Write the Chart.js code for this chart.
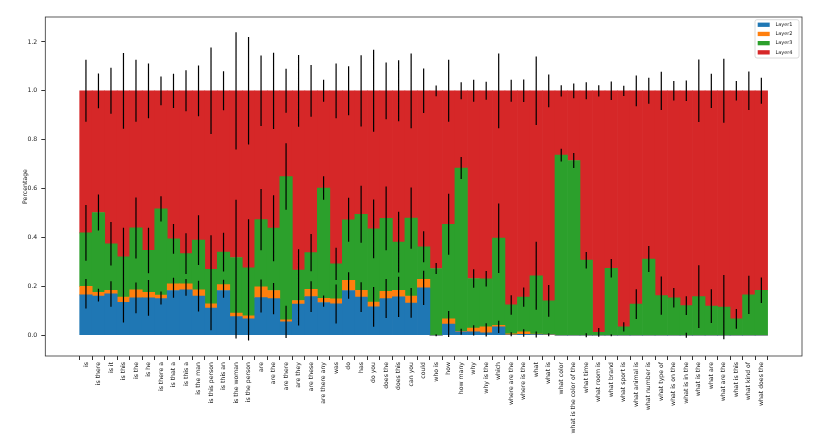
<!DOCTYPE html>
<html>
<head>
<meta charset="utf-8">
<script src="https://cdn.jsdelivr.net/npm/chart.js@4"></script>
<style>
  html, body { margin: 0; padding: 0; background: #fff; }
</style>
</head>
<body>
<canvas id="chart" width="830" height="441"></canvas>
<script>
const categories = ['is', 'is there', 'is it', 'is this', 'is the', 'is he', 'is there a', 'is that a', 'is this a',
  'is the man', 'is this person', 'is this an', 'is the woman', 'is the person', 'are', 'are the', 'are there',
  'are they', 'are these', 'are there any', 'was', 'do', 'has', 'do you', 'does the', 'does this', 'can you',
  'could', 'who is', 'how', 'how many', 'why', 'why is the', 'which', 'where are the', 'where is the', 'what',
  'what is', 'what color', 'what is the color of the', 'what time', 'what room is', 'what brand', 'what sport is',
  'what animal is', 'what number is', 'what type of', 'what is on the', 'what is in the', 'what is the',
  'what are', 'what are the', 'what is this', 'what kind of', 'what does the'];

const layerNames = ['Layer1', 'Layer2', 'Layer3', 'Layer4'];

const layer1 = [0.165, 0.160, 0.169, 0.135, 0.153, 0.153, 0.150, 0.183, 0.186, 0.160, 0.111, 0.183, 0.076, 0.067,
  0.154, 0.150, 0.055, 0.127, 0.158, 0.134, 0.128, 0.183, 0.156, 0.116, 0.150, 0.157, 0.132, 0.194, 0.000,
  0.046, 0.014, 0.014, 0.010, 0.034, 0.002, 0.004, 0.003, 0.002, 0, 0, 0, 0, 0, 0, 0, 0, 0, 0, 0, 0, 0, 0, 0, 0, 0];
const layer2 = [0.035, 0.015, 0.015, 0.021, 0.033, 0.022, 0.014, 0.027, 0.024, 0.026, 0.017, 0.024, 0.015, 0.012,
  0.044, 0.033, 0.008, 0.015, 0.030, 0.017, 0.021, 0.042, 0.028, 0.020, 0.030, 0.027, 0.028, 0.035, 0.000,
  0.021, 0.002, 0.015, 0.024, 0.006, 0.004, 0.010, 0.002, 0.001, 0, 0, 0, 0, 0, 0, 0, 0, 0, 0, 0, 0, 0, 0, 0, 0, 0];
const layer3 = [0.219, 0.327, 0.190, 0.165, 0.253, 0.172, 0.353, 0.184, 0.124, 0.203, 0.142, 0.133, 0.227, 0.197,
  0.275, 0.255, 0.586, 0.125, 0.150, 0.451, 0.143, 0.247, 0.311, 0.299, 0.298, 0.197, 0.319, 0.133, 0.273,
  0.387, 0.668, 0.203, 0.197, 0.357, 0.118, 0.142, 0.238, 0.138, 0.737, 0.715, 0.307, 0.012, 0.274, 0.034,
  0.127, 0.312, 0.162, 0.153, 0.121, 0.158, 0.119, 0.115, 0.067, 0.165, 0.184];
const layer4 = [0.581, 0.498, 0.626, 0.679, 0.561, 0.653, 0.483, 0.606, 0.666, 0.611, 0.730, 0.660, 0.682, 0.724,
  0.527, 0.562, 0.351, 0.733, 0.662, 0.398, 0.708, 0.528, 0.505, 0.565, 0.522, 0.619, 0.521, 0.638, 0.727,
  0.546, 0.316, 0.768, 0.769, 0.603, 0.876, 0.844, 0.757, 0.859, 0.263, 0.285, 0.693, 0.988, 0.726, 0.966,
  0.873, 0.688, 0.838, 0.847, 0.879, 0.842, 0.881, 0.885, 0.933, 0.835, 0.816];

// half-length of the error bar drawn at the top of each layer
const err1 = [0.056, 0.022, 0.052, 0.083, 0.063, 0.073, 0.024, 0.030, 0.025, 0.063, 0.091, 0.030, 0.089, 0.089,
  0.061, 0.064, 0.066, 0.087, 0.063, 0.017, 0.080, 0.034, 0.061, 0.081, 0.080, 0.082, 0.061, 0.070, 0.004,
  0.053, 0.012, 0.015, 0.015, 0.025, 0.006, 0.010, 0.012, 0.006, 0, 0, 0.008, 0, 0.004, 0, 0, 0, 0, 0, 0.010,
  0, 0, 0, 0, 0, 0];
const err2 = [0.030, 0.015, 0.020, 0.020, 0.030, 0.020, 0.015, 0.025, 0.020, 0.025, 0.020, 0.020, 0.015, 0.015,
  0.030, 0.025, 0.010, 0.015, 0.025, 0.012, 0.020, 0.033, 0.025, 0.020, 0.025, 0.025, 0.025, 0.033, 0.004,
  0.020, 0.005, 0.012, 0.015, 0.010, 0.006, 0.010, 0.005, 0.004, 0, 0, 0.004, 0, 0, 0, 0, 0, 0, 0, 0.006,
  0, 0, 0, 0, 0, 0];
const err3 = [0.114, 0.074, 0.089, 0.119, 0.125, 0.093, 0.052, 0.061, 0.083, 0.102, 0.139, 0.079, 0.236, 0.198,
  0.125, 0.135, 0.136, 0.085, 0.076, 0.048, 0.066, 0.090, 0.117, 0.120, 0.130, 0.124, 0.125, 0.063, 0.023,
  0.125, 0.045, 0.038, 0.032, 0.142, 0.040, 0.039, 0.139, 0.065, 0.026, 0.031, 0.034, 0.018, 0.038, 0.019,
  0.061, 0.053, 0.078, 0.040, 0.038, 0.128, 0.069, 0.131, 0.040, 0.078, 0.052];
const err4 = [0.127, 0.071, 0.094, 0.155, 0.127, 0.112, 0.059, 0.070, 0.084, 0.104, 0.177, 0.080, 0.240, 0.220,
  0.144, 0.156, 0.090, 0.147, 0.106, 0.045, 0.112, 0.100, 0.146, 0.168, 0.116, 0.125, 0.153, 0.091, 0.022,
  0.127, 0.035, 0.045, 0.037, 0.153, 0.045, 0.046, 0.140, 0.067, 0.023, 0.030, 0.035, 0.023, 0.038, 0.021,
  0.063, 0.053, 0.078, 0.040, 0.042, 0.128, 0.070, 0.131, 0.040, 0.079, 0.053];

const yTicks = [0, 0.2, 0.4, 0.6, 0.8, 1.0, 1.2];

const layers = [layer1, layer2, layer3, layer4];
const errors = [err1, err2, err3, err4];
const colors = ['#1f77b4', '#ff7f0e', '#2ca02c', '#d62728'];
const font = { family: 'DejaVu Sans', size: 6.2 };

// error bars on top of every layer
const errorBars = {
  id: 'errorBars',
  afterDatasetsDraw(chart) {
    const { ctx, scales: { x, y } } = chart;
    ctx.save();
    ctx.strokeStyle = '#000';
    ctx.lineWidth = 1.2;
    ctx.beginPath();
    categories.forEach((_, i) => {
      let top = 0;
      layers.forEach((layer, k) => {
        top += layer[i];
        const e = errors[k][i];
        if (!e) return;
        const px = x.getPixelForValue(i);
        ctx.moveTo(px, y.getPixelForValue(top - e));
        ctx.lineTo(px, y.getPixelForValue(top + e));
      });
    });
    ctx.stroke();

    // axes frame
    const a = chart.chartArea;
    ctx.strokeStyle = '#333';
    ctx.lineWidth = 0.8;
    ctx.strokeRect(a.left, a.top, a.right - a.left, a.bottom - a.top);
    ctx.restore();
  }
};

// matplotlib-like legend, upper right
const legendBox = {
  id: 'legendBox',
  afterDraw(chart) {
    const { ctx, chartArea } = chart;
    const w = 44, h = 38.3;
    const left = chartArea.right - 3 - w, top = chartArea.top + 2.7;
    ctx.save();
    ctx.fillStyle = 'rgba(255,255,255,0.8)';
    ctx.strokeStyle = '#d0d0d0';
    ctx.lineWidth = 0.8;
    ctx.beginPath();
    ctx.roundRect(left, top, w, h, 2);
    ctx.fill();
    ctx.stroke();
    ctx.font = '5px "DejaVu Sans"';
    ctx.textBaseline = 'middle';
    chart.data.datasets.forEach((ds, k) => {
      const cy = top + 5 + k * 9.2;
      ctx.fillStyle = ds.backgroundColor;
      ctx.fillRect(left + 2.7, cy - 2.1, 12, 4.3);
      ctx.fillStyle = '#222';
      ctx.fillText(ds.label, left + 20.4, cy);
    });
    ctx.restore();
  }
};

new Chart(document.getElementById('chart'), {
  type: 'bar',
  data: {
    datasets: layers.map((layer, k) => ({
      label: layerNames[k],
      data: layer.map((v, i) => ({ x: i, y: v })),
      backgroundColor: colors[k],
      borderWidth: 0,
      barPercentage: 1,
      categoryPercentage: 1
    }))
  },
  options: {
    responsive: false,
    animation: false,
    layout: { padding: { top: 17, right: 28, left: 0, bottom: 0 } },
    plugins: {
      legend: { display: false },
      tooltip: { enabled: false }
    },
    scales: {
      x: {
        type: 'linear',
        min: -3.25,
        max: 57.25,
        stacked: true,
        offset: false,
        afterBuildTicks: axis => { axis.ticks = categories.map((_, i) => ({ value: i })); },
        afterFit: axis => { axis.height = 85; },
        grid: { drawOnChartArea: false, tickLength: 4, color: '#333' },
        border: { display: false },
        ticks: {
          autoSkip: false,
          maxRotation: 90,
          minRotation: 90,
          padding: 2,
          font: font,
          color: '#222',
          callback: v => categories[v] ?? ''
        }
      },
      y: {
        min: -0.085,
        max: 1.302,
        stacked: true,
        afterBuildTicks: axis => { axis.ticks = yTicks.map(v => ({ value: v })); },
        afterFit: axis => { axis.width = 45.3; },
        grid: { drawOnChartArea: false, tickLength: 4, color: '#333' },
        border: { display: false },
        ticks: { padding: 4, font: font, color: '#222', callback: v => v.toFixed(1) },
        title: { display: true, text: 'Percentage', font: font, color: '#222', padding: { top: 22, bottom: 0 } }
      }
    }
  },
  plugins: [errorBars, legendBox]
});
</script>
</body>
</html>
